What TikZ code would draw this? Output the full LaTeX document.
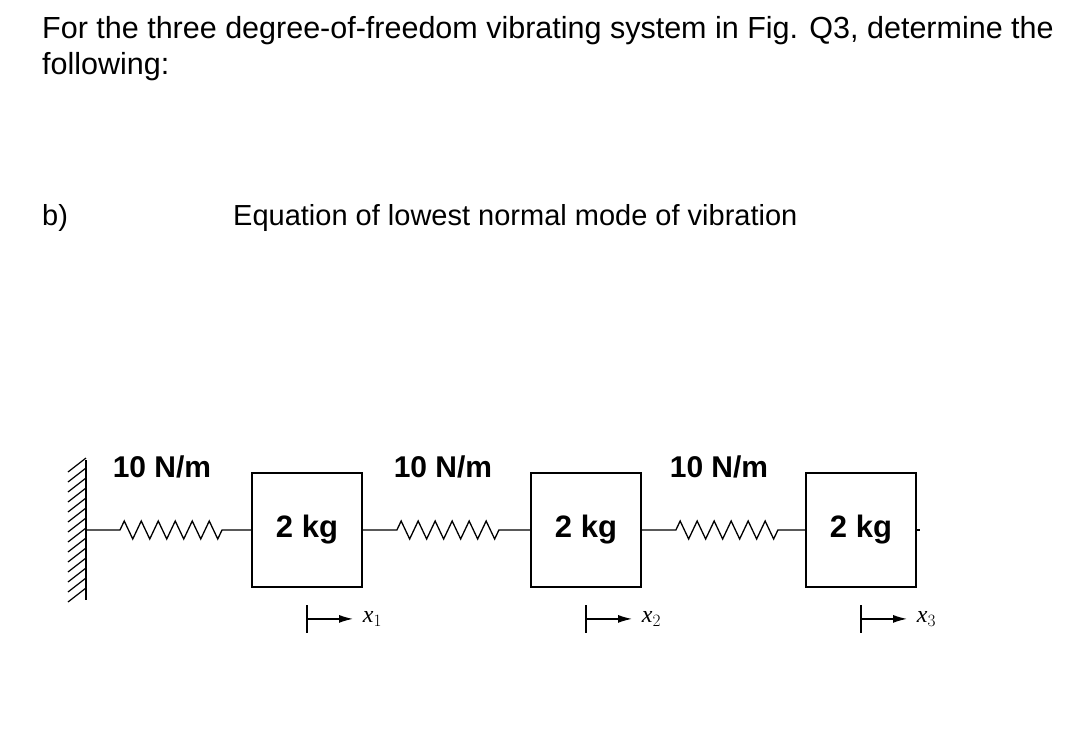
\documentclass[tikz,border=0pt]{standalone}
\usepackage{fontspec}
\setmainfont{Liberation Sans}
\newfontfamily\mathlike{Liberation Serif}
\usetikzlibrary{positioning,decorations.pathmorphing,arrows.meta}
\tikzset{
  mass/.style={draw, line width=1.8pt, minimum width=110pt, minimum height=114pt, font=\fontsize{31}{34}\selectfont\bfseries},
  springlbl/.style={font=\fontsize{30}{33}\selectfont\bfseries},
  spring/.style={line width=1.3pt, decorate, decoration={zigzag, segment length=17pt, amplitude=9pt, pre length=34pt, post length=24pt}},
  disp/.style={font=\mathlike\itshape\fontsize{24}{26}\selectfont}
}
\begin{document}
\begin{tikzpicture}[x=1pt,y=-1pt]
    \useasboundingbox (0,0) rectangle (1073,754);

        % Text
        \node (q) [anchor=north west, align=left, inner sep=0pt, font=\fontsize{30.5}{36}\selectfont] at (42,16) {For the three degree-of-freedom vibrating system in Fig. Q3, determine the\\following:};
        \node (b) [anchor=west, inner sep=0pt, font=\fontsize{29}{32}\selectfont] at (42,218) {b)};
        \node (eq) [anchor=west, inner sep=0pt, font=\fontsize{29}{32}\selectfont] at (233,218) {Equation of lowest normal mode of vibration};

        % Wall
        \foreach \h in {462,472,...,592} {
            \draw[line width=1.2pt] (68,\h+10) -- (86,\h-4);
        }
        \coordinate (wall) at (86,530);
        \draw[line width=2pt] (86,460) -- (86,600);

        % Masses
        \node (m1) [mass] at (307,530) {2 kg};
        \node (m2) [mass] at (586,530) {2 kg};
        \node (m3) [mass] at (861,530) {2 kg};
        \coordinate (stub) at (920,530);

        % Springs
        \draw[spring] (wall) -- (m1.west);
        \draw[spring] (m1.east) -- (m2.west);
        \draw[spring] (m2.east) -- (m3.west);
        \draw[line width=1.3pt] (m3.east) -- (stub);

        % Spring labels
        \node (k1) [springlbl] at (162,467) {10 N/m};
        \node (k2) [springlbl] at (443,467) {10 N/m};
        \node (k3) [springlbl] at (719,467) {10 N/m};

        % Displacements
        \foreach \m/\i in {m1/1, m2/2, m3/3} {
            \coordinate (t\i) at ([yshift=-31pt]\m.south);
            \draw[line width=1.3pt] ([yshift=-14pt]t\i) -- ([yshift=14pt]t\i);
            \draw[line width=1.3pt, -{Latex[length=14pt,width=8pt]}] (t\i) -- ++(46,0) node (x\i) [disp, right=6pt] {x$_{\i}$};
        }

    \end{tikzpicture}
\end{document}
